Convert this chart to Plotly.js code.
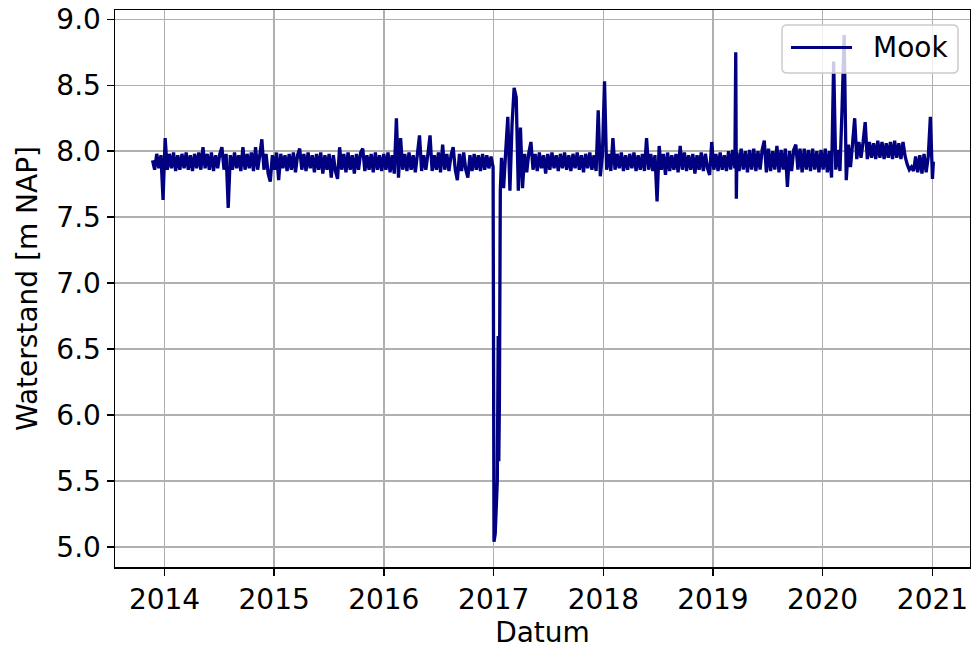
<!DOCTYPE html>
<html>
<head>
<meta charset="utf-8">
<script src="https://cdn.plot.ly/plotly-3.0.1.min.js"></script>
<style>html,body{margin:0;padding:0;background:#fff;}#chart{width:971px;height:649px;}</style>
</head>
<body>
<div id="chart"></div>
<script>
// Weekly readings of the water level at Mook [m NAP], first week starting 2013-11-22
var seriesName = "Mook";
var firstWeek = "2013-11-22";
var weeklyLevels = [
  // 0-12
  7.93,7.86,7.98,7.87,7.97,7.63,8.10,7.86,7.98,7.87,7.99,7.85,7.97,
  // 13-25
  7.86,7.98,7.87,7.99,7.86,7.97,7.85,7.98,7.87,7.99,7.86,8.03,7.87,
  // 26-38
  7.98,7.86,7.99,7.85,7.97,7.87,7.98,8.03,7.86,7.98,7.57,7.97,7.86,
  // 39-51
  7.99,7.87,7.97,7.85,8.03,7.86,7.98,7.87,7.99,7.85,8.03,7.86,7.97,
  // 52-64
  8.09,7.86,7.98,7.83,7.77,7.97,7.86,7.99,7.78,7.98,7.87,7.97,7.85,
  // 65-77
  7.98,7.86,7.99,7.84,7.97,8.02,7.86,7.98,7.85,7.99,7.87,7.97,7.84,
  // 78-90
  7.98,7.86,7.99,7.83,7.97,7.86,7.98,7.80,7.97,7.85,7.79,8.03,7.86,
  // 91-103
  7.98,7.84,7.99,7.86,7.97,7.83,7.98,7.86,7.99,8.02,7.85,7.97,7.86,
  // 104-116
  7.98,7.84,7.99,7.86,7.97,7.85,7.98,7.86,7.99,7.84,7.97,7.83,8.25,
  // 117-129
  7.80,8.10,7.86,7.98,7.85,7.99,7.86,7.97,7.84,7.98,8.12,7.85,7.97,
  // 130-142
  7.86,7.98,8.12,7.85,7.97,7.86,7.99,7.84,8.05,7.86,7.98,7.85,7.97,
  // 143-155
  8.03,7.86,7.78,7.98,7.85,7.99,7.86,7.80,7.97,7.85,7.98,7.86,7.97,
  // 156-168
  7.85,7.98,7.86,7.97,7.87,7.96,7.88,5.10,5.50,6.10,7.95,7.72,8.00,
  // 169-181
  8.26,7.70,8.20,8.48,8.41,7.70,8.18,7.72,7.98,7.84,7.99,8.07,7.86,
  // 182-194
  7.98,7.85,7.99,7.87,7.97,7.83,7.98,7.86,7.99,7.87,7.97,7.85,7.98,
  // 195-207
  7.87,7.99,7.86,7.97,7.85,7.98,7.87,7.99,7.86,7.97,7.84,7.98,7.87,
  // 208-220
  7.99,7.86,7.97,7.85,8.31,7.81,7.97,8.53,7.86,7.98,7.85,8.10,7.86,
  // 221-233
  7.98,7.87,7.99,7.85,7.97,7.86,7.98,7.87,7.99,7.85,7.97,7.86,7.98,
  // 234-246
  7.85,8.10,7.86,7.98,7.85,7.97,7.62,8.04,7.86,7.98,7.82,7.99,7.85,
  // 247-259
  7.97,7.86,7.98,7.84,8.04,7.86,7.99,7.85,7.97,7.86,7.98,7.83,7.97,
  // 260-272
  7.86,7.99,7.85,7.98,7.87,7.82,8.07,7.86,7.98,7.85,7.99,7.86,7.97,
  // 273-285
  7.85,8.00,7.86,8.01,7.87,7.99,7.85,8.02,7.86,8.00,7.84,8.01,7.86,
  // 286-298
  8.02,7.85,8.00,7.86,8.01,8.08,7.84,8.02,7.85,8.00,7.86,8.04,7.84,
  // 299-311
  8.01,7.86,8.02,7.73,8.00,7.85,8.01,8.05,7.86,8.02,7.84,8.02,7.86,
  // 312-324
  8.01,7.85,8.02,7.86,8.00,7.84,8.01,7.86,8.02,7.84,8.00,7.80,8.68,
  // 325-337
  7.86,8.01,7.85,8.33,8.88,7.78,8.05,7.88,8.06,8.25,7.94,8.07,7.95,
  // 338-350
  8.07,8.22,7.94,8.07,7.95,8.06,7.94,8.08,7.95,8.07,7.94,8.06,7.95,
  // 351-363
  8.07,7.94,8.08,7.95,8.06,7.94,8.07,7.96,7.90,7.86,7.88,7.85,7.96,
  // 364-371
  7.84,7.97,7.83,7.98,7.84,7.96,8.26,7.79
];
// Extra readings between the weekly ones (dip of January 2017, spike of March 2019, last reading)
var extraDates  = ["2017-01-02","2017-01-16","2017-01-18","2017-01-23","2019-03-18","2019-03-20","2021-01-04"];
var extraLevels = [5.04, 6.60, 5.65, 7.70, 8.75, 7.64, 7.92];

var yearTicks = ["2014","2015","2016","2017","2018","2019","2020","2021"];
var levelTicks = [5.0,5.5,6.0,6.5,7.0,7.5,8.0,8.5,9.0];

// Build the merged, date-sorted series
var pts = [];
var t0 = Date.parse(firstWeek + "T00:00:00Z");
for (var i = 0; i < weeklyLevels.length; i++) {
  var d = new Date(t0 + i * 7 * 86400000);
  pts.push([d.toISOString().slice(0,10), weeklyLevels[i]]);
}
for (var j = 0; j < extraDates.length; j++) pts.push([extraDates[j], extraLevels[j]]);
pts.sort(function(a,b){ return a[0] < b[0] ? -1 : (a[0] > b[0] ? 1 : 0); });
var xs = pts.map(function(p){return p[0];});
var ys = pts.map(function(p){return p[1];});

var FONT = "DejaVu Sans, sans-serif";
var FS = 28;
var LINE_COLOR = "#000080";

var trace = {
  type: "scatter", mode: "lines", name: seriesName,
  x: xs, y: ys,
  line: {color: LINE_COLOR, width: 3.3, simplify: false},
  showlegend: false
};

// Legend box drawn in paper units (matplotlib-style: long line sample, rounded frame)
var W = 971, H = 649, ML = 115, MR = 1, MT = 10, MB = 82;
var PW = W - ML - MR, PH = H - MT - MB;
function px(xp){ return (xp - ML) / PW; }
function py(yp){ return (H - MB - yp) / PH; }
var bx0 = px(782), bx1 = px(958), by0 = py(73), by1 = py(25);
var rx = 5 / PW, ry = 5 / PH;
var boxPath = "M" + (bx0+rx) + "," + by0 + " L" + (bx1-rx) + "," + by0 +
  " Q" + bx1 + "," + by0 + " " + bx1 + "," + (by0+ry) +
  " L" + bx1 + "," + (by1-ry) + " Q" + bx1 + "," + by1 + " " + (bx1-rx) + "," + by1 +
  " L" + (bx0+rx) + "," + by1 + " Q" + bx0 + "," + by1 + " " + bx0 + "," + (by1-ry) +
  " L" + bx0 + "," + (by0+ry) + " Q" + bx0 + "," + by0 + " " + (bx0+rx) + "," + by0 + " Z";

var layout = {
  width: W, height: H,
  margin: {l: ML, r: MR, t: MT, b: MB, pad: 0},
  paper_bgcolor: "#ffffff", plot_bgcolor: "#ffffff",
  font: {family: FONT, size: FS, color: "#000"},
  showlegend: false,
  xaxis: {
    type: "date",
    range: ["2013-07-20", "2021-05-06"],
    tickmode: "array",
    tickvals: yearTicks.map(function(y){return y + "-01-01";}),
    ticktext: yearTicks,
    showgrid: true, gridcolor: "#b0b0b0", gridwidth: 1.5,
    zeroline: false,
    showline: true, linecolor: "#000", linewidth: 1.5, mirror: true,
    ticks: "outside", ticklen: 7, tickwidth: 1.5, tickcolor: "#000",
    tickfont: {family: FONT, size: FS, color: "#000"},
    title: {text: "Datum", font: {family: FONT, size: FS, color: "#000"}, standoff: 9}
  },
  yaxis: {
    range: [4.848, 9.0705],
    tickmode: "array",
    tickvals: levelTicks,
    ticktext: levelTicks.map(function(v){return v.toFixed(1);}),
    showgrid: true, gridcolor: "#b0b0b0", gridwidth: 1.5,
    zeroline: false,
    showline: true, linecolor: "#000", linewidth: 1.5, mirror: true,
    ticks: "outside", ticklen: 7, tickwidth: 1.5, tickcolor: "#000",
    tickfont: {family: FONT, size: FS, color: "#000"},
    title: {text: "Waterstand [m NAP]", font: {family: FONT, size: FS, color: "#000"}, standoff: 10}
  },
  shapes: [
    {type: "path", xref: "paper", yref: "paper", layer: "above", path: boxPath,
     fillcolor: "rgba(255,255,255,0.8)", line: {color: "#cccccc", width: 1.5}},
    {type: "line", xref: "paper", yref: "paper", layer: "above",
     x0: px(791), x1: px(852), y0: py(47.5), y1: py(47.5),
     line: {color: LINE_COLOR, width: 3.2}}
  ],
  annotations: [
    {xref: "paper", yref: "paper", x: px(871), y: py(47.5), xanchor: "left", yanchor: "middle",
     text: seriesName, showarrow: false, font: {family: FONT, size: FS, color: "#000"}}
  ]
};

Plotly.newPlot("chart", [trace], layout, {displayModeBar: false, staticPlot: true});
</script>
</body>
</html>
